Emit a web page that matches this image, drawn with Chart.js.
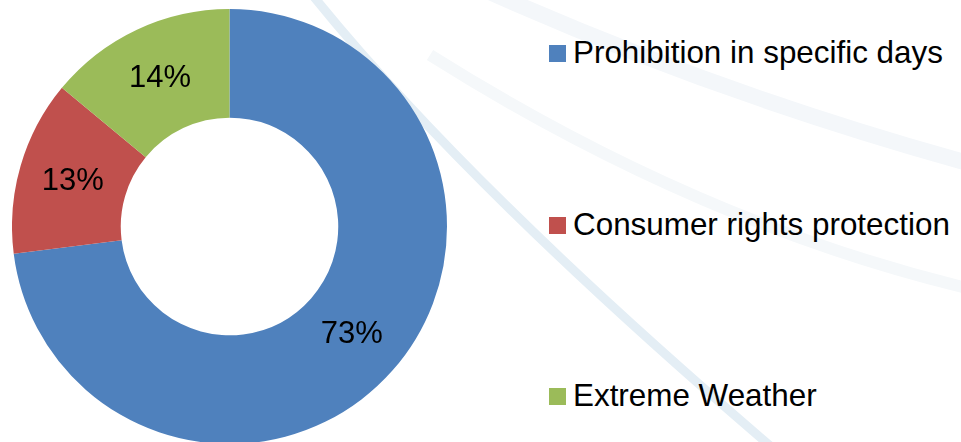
<!DOCTYPE html>
<html>
<head>
<meta charset="utf-8">
<script src="https://cdn.jsdelivr.net/npm/chart.js@4.4.1/dist/chart.umd.min.js"></script>
<style>
    html, body {
        margin: 0;
        padding: 0;
        width: 961px;
        height: 442px;
        overflow: hidden;
        background: #ffffff;
        font-family: Arial, "Liberation Sans", sans-serif;
    }
    #bg {
        position: absolute;
        left: 0;
        top: 0;
    }
    #chartBox {
        position: absolute;
        left: 12px;
        top: 9px;
        width: 435px;
        height: 435px;
    }
    #legend {
        position: absolute;
        left: 549px;
        top: 0;
    }
    .item {
        position: absolute;
        left: 0;
        display: flex;
        align-items: center;
        white-space: nowrap;
        font-size: 31.4px;
        color: #000;
        height: 36px;
    }
    .item .box {
        width: 17px;
        height: 17px;
        margin-right: 7px;
        flex: none;
    }
</style>
</head>
<body>
<!-- faint decorative swooshes from the slide background -->
<svg id="bg" width="961" height="442">
    <path d="M 485 -10 Q 720 95 975 165" stroke="#f4f7fa" stroke-width="16" fill="none"/>
    <path d="M 430 55 Q 700 225 975 290" stroke="#f5f8fa" stroke-width="12" fill="none"/>
    <path d="M 310 -8 Q 465 185 775 450" stroke="#e4eef5" stroke-width="9" fill="none"/>
</svg>

<div id="chartBox"><canvas id="donut"></canvas></div>
<div id="legend"></div>

<script>
// chart data
const categories = ["Prohibition in specific days", "Consumer rights protection", "Extreme Weather"];
const shares = [73, 13, 14];
const colors = ["#4F81BD", "#C0504D", "#9BBB59"];

// legend rows (top of each row, px)
const legendTops = [35, 207, 378];

document.addEventListener("DOMContentLoaded", function () {
    const legend = document.getElementById("legend");
    categories.forEach((name, i) => {
        const row = document.createElement("div");
        row.className = "item";
        row.style.top = legendTops[i] + "px";
        const box = document.createElement("span");
        box.className = "box";
        box.style.background = colors[i];
        const txt = document.createElement("span");
        txt.textContent = name;
        row.appendChild(box);
        row.appendChild(txt);
        legend.appendChild(row);
    });

    // percent labels in the middle of each ring segment
    const sliceLabels = {
        id: "sliceLabels",
        afterDatasetsDraw(chart) {
            const c = chart.ctx;
            const meta = chart.getDatasetMeta(0);
            const data = chart.data.datasets[0].data;
            const total = data.reduce((a, b) => a + b, 0);
            c.save();
            c.font = '31px Arial, "Liberation Sans", sans-serif';
            c.fillStyle = "#000";
            c.textAlign = "center";
            c.textBaseline = "middle";
            meta.data.forEach((arc, i) => {
                const p = arc.getCenterPoint();
                c.fillText(Math.round(data[i] / total * 100) + "%", p.x, p.y);
            });
            c.restore();
        },
    };

    const ctx = document.getElementById("donut").getContext("2d");
    new Chart(ctx, {
        type: "doughnut",
        data: {
            labels: categories,
            datasets: [
                {
                    data: shares,
                    backgroundColor: colors,
                    borderWidth: 0,
                    hoverOffset: 0,
                },
            ],
        },
        options: {
            responsive: true,
            maintainAspectRatio: false,
            animation: false,
            cutout: "50%",
            layout: { padding: 0 },
            plugins: {
                legend: { display: false },
                tooltip: { enabled: false },
            },
        },
        plugins: [sliceLabels],
    });
});
</script>
</body>
</html>
